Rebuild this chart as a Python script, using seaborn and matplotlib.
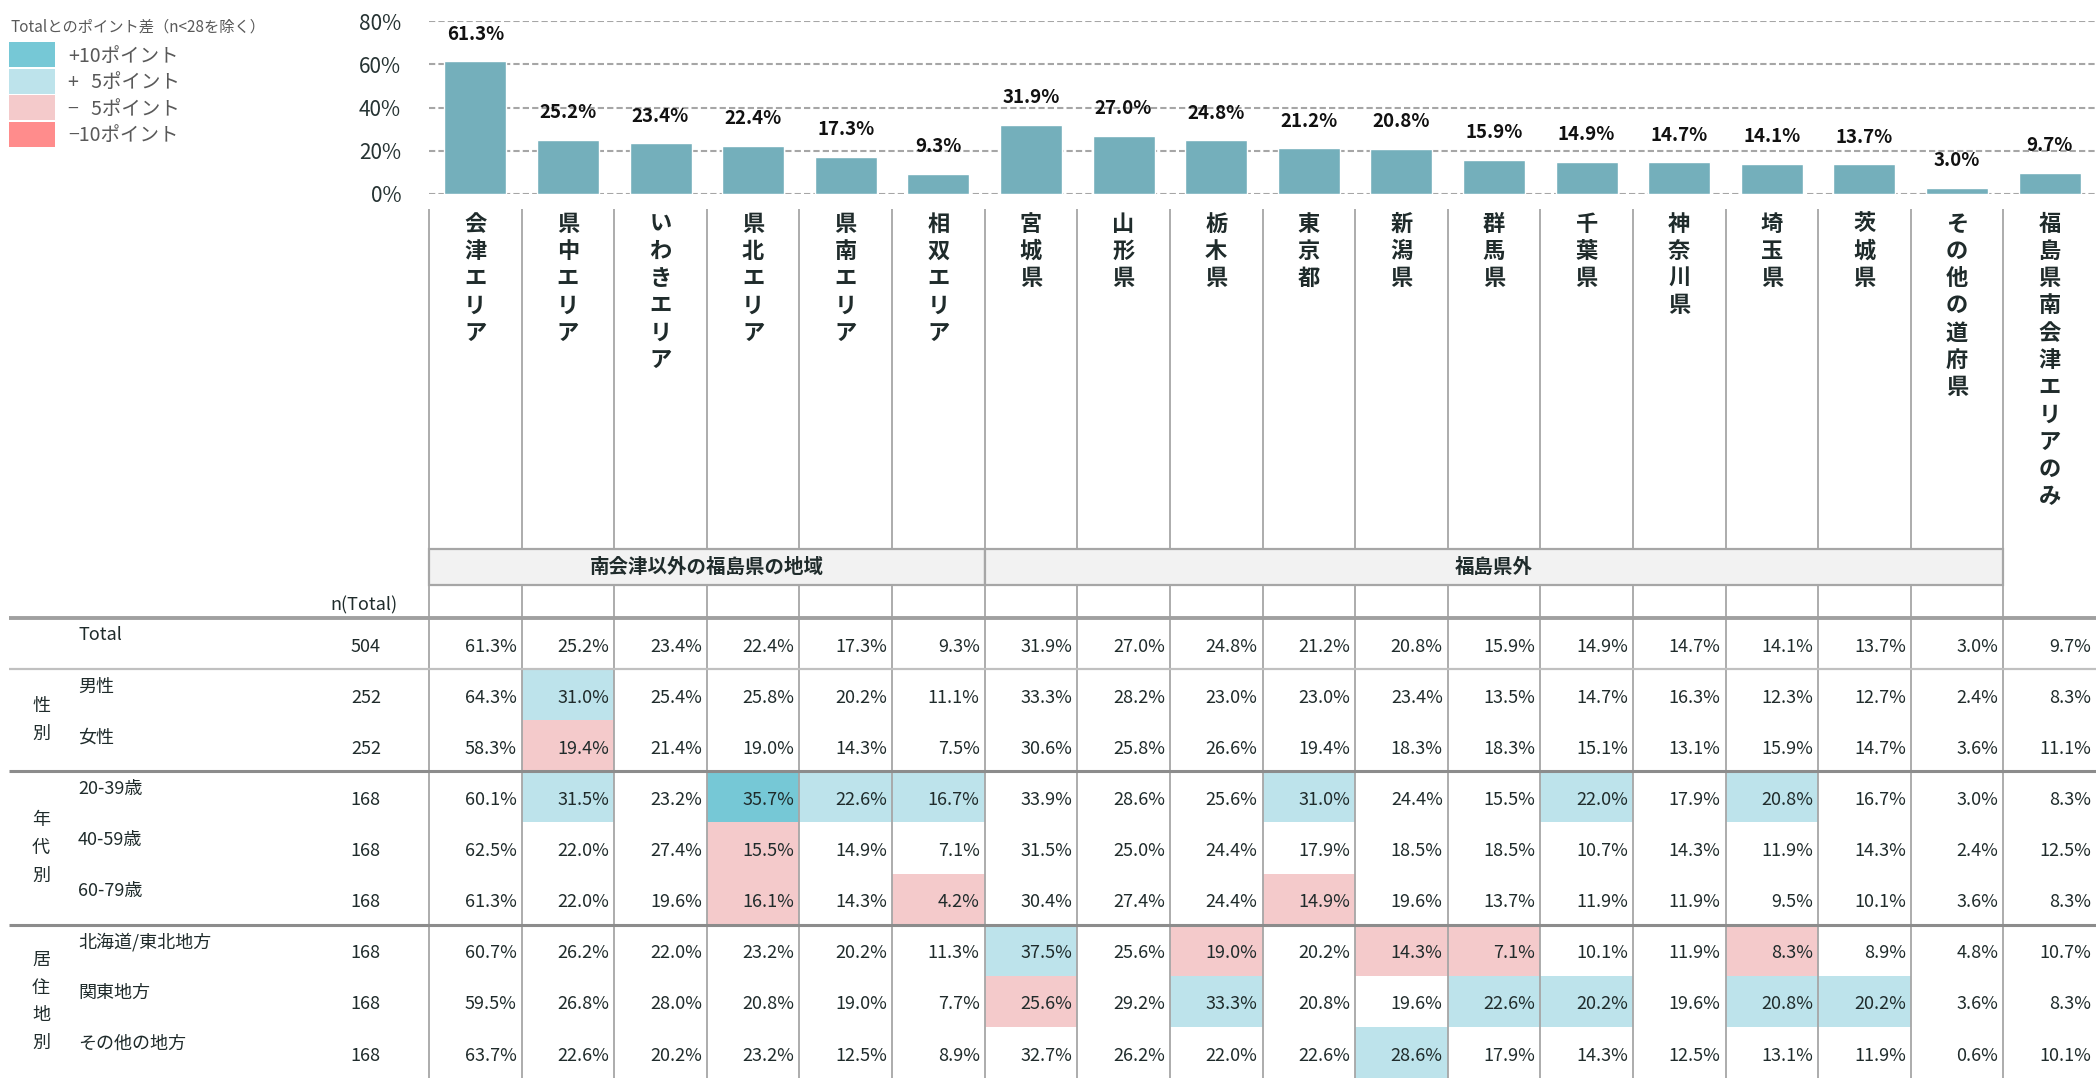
import numpy as np
import pandas as pd
import matplotlib
matplotlib.use("Agg")
import matplotlib.pyplot as plt
import seaborn as sns
from matplotlib.colors import ListedColormap
from matplotlib.patches import Rectangle

# ---------------- data ----------------
columns = ["会津エリア", "県中エリア", "いわきエリア", "県北エリア", "県南エリア", "相双エリア",
           "宮城県", "山形県", "栃木県", "東京都", "新潟県", "群馬県", "千葉県", "神奈川県",
           "埼玉県", "茨城県", "その他の道府県", "福島県南会津エリアのみ"]
group_names = ["南会津以外の福島県の地域", "福島県外"]
group_spans = [(0, 6), (6, 17)]

row_labels = ["Total", "男性", "女性", "20-39歳", "40-59歳", "60-79歳",
              "北海道/東北地方", "関東地方", "その他の地方"]
row_groups = [("性別", 1, 3), ("年代別", 3, 6), ("居住地別", 6, 9)]
n_total = [504, 252, 252, 168, 168, 168, 168, 168, 168]

total_vals = [61.3, 25.2, 23.4, 22.4, 17.3, 9.3, 31.9, 27.0, 24.8, 21.2, 20.8, 15.9, 14.9, 14.7, 14.1, 13.7, 3.0, 9.7]
male_vals = [64.3, 31.0, 25.4, 25.8, 20.2, 11.1, 33.3, 28.2, 23.0, 23.0, 23.4, 13.5, 14.7, 16.3, 12.3, 12.7, 2.4, 8.3]
female_vals = [58.3, 19.4, 21.4, 19.0, 14.3, 7.5, 30.6, 25.8, 26.6, 19.4, 18.3, 18.3, 15.1, 13.1, 15.9, 14.7, 3.6, 11.1]
age20_vals = [60.1, 31.5, 23.2, 35.7, 22.6, 16.7, 33.9, 28.6, 25.6, 31.0, 24.4, 15.5, 22.0, 17.9, 20.8, 16.7, 3.0, 8.3]
age40_vals = [62.5, 22.0, 27.4, 15.5, 14.9, 7.1, 31.5, 25.0, 24.4, 17.9, 18.5, 18.5, 10.7, 14.3, 11.9, 14.3, 2.4, 12.5]
age60_vals = [61.3, 22.0, 19.6, 16.1, 14.3, 4.2, 30.4, 27.4, 24.4, 14.9, 19.6, 13.7, 11.9, 11.9, 9.5, 10.1, 3.6, 8.3]
north_vals = [60.7, 26.2, 22.0, 23.2, 20.2, 11.3, 37.5, 25.6, 19.0, 20.2, 14.3, 7.1, 10.1, 11.9, 8.3, 8.9, 4.8, 10.7]
kanto_vals = [59.5, 26.8, 28.0, 20.8, 19.0, 7.7, 25.6, 29.2, 33.3, 20.8, 19.6, 22.6, 20.2, 19.6, 20.8, 20.2, 3.6, 8.3]
other_vals = [63.7, 22.6, 20.2, 23.2, 12.5, 8.9, 32.7, 26.2, 22.0, 22.6, 28.6, 17.9, 14.3, 12.5, 13.1, 11.9, 0.6, 10.1]

legend_title = "Totalとのポイント差（n<28を除く）"
legend_labels = ["+10ポイント", "+\u20075ポイント", "−\u20075ポイント", "−10ポイント"]
y_ticks = [0, 20, 40, 60, 80]

# ---------------- styles ----------------
BAR_COLOR = "#74AFBB"
C_TEAL, C_LIGHT, C_PINK, C_RED = "#76C8D6", "#BDE3EB", "#F4CACB", "#FF8C8C"
LINE = "#A6A6A6"
TXT = "#1F2B2B"
GREY_TXT = "#595959"

sns.set_theme(style="white")
plt.rcParams["font.family"] = ["Noto Sans CJK JP", "DejaVu Sans"]

W, H = 2096, 1078
fig = plt.figure(figsize=(W / 100, H / 100), dpi=100)

# layout (pixels)
X0, COL_W = 429.0, (2096 - 429.0) / 18
Y0, ROW_H = 618.0, (1078 - 618.0) / 9


def ux(px):
    return (px - X0) / COL_W


def uy(px):
    return (px - Y0) / ROW_H


# ---------------- table axes ----------------
ax_t = fig.add_axes([0, 0, 1, 1])
values = np.array([total_vals, male_vals, female_vals, age20_vals, age40_vals,
                   age60_vals, north_vals, kanto_vals, other_vals])
diff = np.round(values - np.array(total_vals)[None, :], 1)
levels = np.select([diff >= 10, diff >= 5, diff <= -10, diff <= -5], [2, 1, -2, -1], 0)
cmap = ListedColormap([C_RED, C_PINK, "#FFFFFF", C_LIGHT, C_TEAL])
sns.heatmap(pd.DataFrame(levels, index=row_labels, columns=columns), ax=ax_t, cmap=cmap,
            vmin=-2.5, vmax=2.5, cbar=False, annot=False, linewidths=0)
ax_t.set_xlim(ux(0), ux(W))
ax_t.set_ylim(uy(H), uy(0))
ax_t.set_axis_off()

# vertical column lines
ax_t.vlines(np.arange(18), uy(209), 9, colors=LINE, lw=1.3, zorder=2)
# horizontal separators
ax_t.hlines([0], ux(9), ux(W), colors="#A0A0A0", lw=2.8, zorder=2)
ax_t.hlines([1], ux(9), ux(W), colors="#C0C0C0", lw=1.6, zorder=2)
ax_t.hlines([3, 6], ux(9), ux(W), colors="#8C8C8C", lw=2.2, zorder=2)

# group band
for name, (a, b) in zip(group_names, group_spans):
    ax_t.add_patch(Rectangle((a, uy(549)), b - a, uy(585) - uy(549), facecolor="#F2F2F2",
                             edgecolor=LINE, lw=1.6, zorder=3))
    ax_t.text((a + b) / 2, uy(567), name, ha="center", va="center", fontsize=14,
              weight="bold", color=TXT, zorder=4)

# column header (vertical text)
for j, lab in enumerate(columns):
    for k, ch in enumerate(lab):
        ax_t.text(j + 0.5, uy(224 + 27.3 * k), ch, ha="center", va="center",
                  fontsize=16, weight="bold", color=TXT, zorder=5)

ax_t.text(ux(397), uy(605), "n(Total)", ha="right", va="center", fontsize=13, color=TXT)

# row labels, n and values
for i, lab in enumerate(row_labels):
    ax_t.text(ux(78), i + 0.34, lab, ha="left", va="center", fontsize=13, color=TXT)
    ax_t.text(ux(381), i + 0.56, f"{n_total[i]}", ha="right", va="center", fontsize=13, color=TXT)
    for j in range(len(columns)):
        ax_t.text(j + 1 - 5 / COL_W, i + 0.56, f"{values[i, j]:.1f}%", ha="right",
                  va="center", fontsize=13, color=TXT, zorder=5)

for name, a, b in row_groups:
    n = len(name)
    for k, ch in enumerate(name):
        ax_t.text(ux(41), (a + b) / 2 + (k - (n - 1) / 2) * 27.5 / ROW_H, ch,
                  ha="center", va="center", fontsize=13, color=TXT)

# legend
ax_t.text(ux(10), uy(27), legend_title, ha="left", va="center", fontsize=11, color=GREY_TXT)
for i, (c, lab) in enumerate(zip([C_TEAL, C_LIGHT, C_PINK, C_RED], legend_labels)):
    top = 42 + 26.6 * i
    ax_t.add_patch(Rectangle((ux(9), uy(top)), ux(55) - ux(9), uy(top + 25) - uy(top),
                             facecolor=c, edgecolor="none", zorder=3))
    ax_t.text(ux(68), uy(top + 14), lab, ha="left", va="center", fontsize=14, color=GREY_TXT)

# ---------------- bar axes ----------------
ax_b = fig.add_axes([X0 / W, 1 - 194 / H, (W - X0) / W, (194 - 21) / H])
ax_b.patch.set_alpha(0)
bar_df = pd.DataFrame({"area": columns, "value": total_vals})
sns.barplot(data=bar_df, x="area", y="value", color=BAR_COLOR, saturation=1, width=0.67,
            ax=ax_b, errorbar=None)
ax_b.set_xlim(-0.5, 17.5)
ax_b.set_ylim(0, 80)
ax_b.set_yticks(y_ticks)
ax_b.set_yticklabels([f"{t}%" for t in y_ticks])
ax_b.tick_params(axis="y", length=0, pad=20, labelsize=15, labelcolor="#263333")
ax_b.tick_params(axis="x", length=0, labelbottom=False)
ax_b.set_xlabel("")
ax_b.set_ylabel("")
ax_b.yaxis.grid(True, linestyle=(0, (3, 1.5)), color=LINE, lw=1.5)
ax_b.xaxis.grid(False)
ax_b.set_axisbelow(True)
for s in ax_b.spines.values():
    s.set_visible(False)
for i, v in enumerate(total_vals):
    ax_b.annotate(f"{v:.1f}%", (i, v), xytext=(0, 19.5), textcoords="offset points",
                  ha="center", va="center", fontsize=13.5, weight="bold", color="#111111")

fig.savefig("out.png", dpi=100)
